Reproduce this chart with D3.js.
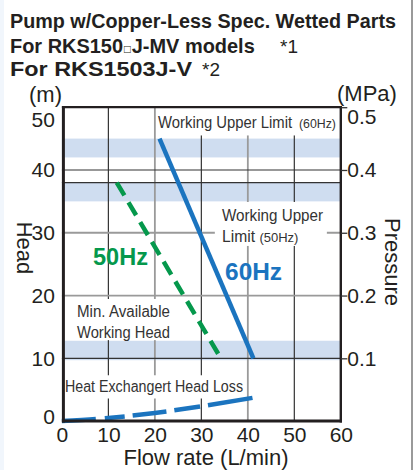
<!DOCTYPE html>
<html>
<head>
<meta charset="utf-8">
<script src="https://cdn.jsdelivr.net/npm/d3@7"></script>
<style>
  body { margin: 0; background: #fff; }
  svg text { font-family: "Liberation Sans", Arial, Helvetica, sans-serif; }
</style>
</head>
<body>
<div id="chart"></div>
<script>
// chart values
var flowTicks = [0, 10, 20, 30, 40, 50, 60];
var headTicks = [0, 10, 20, 30, 40, 50];
var pressureTicks = [0.1, 0.2, 0.3, 0.4, 0.5];

var flow60 = [21, 41.2];
var head60 = [45, 10];
var flow50 = [11.8, 34.2];
var head50 = [38, 10];
var flowLoss = [0, 10, 20, 30, 41];
var headLoss = [0, 0.5, 1.3, 2.35, 3.7];

// shaded head ranges: working upper limit 60Hz, 50Hz, min. available head
var bandLow = [42, 35, 9.7];
var bandHigh = [45, 38, 12.8];

var darkFlowGrid = [10, 30, 50];
var grayFlowGrid = [20, 40];
var darkHeadGrid = [10, 38, 40];
var grayHeadGrid = [20, 30];

var width = 413, height = 470;
var blue = "#1b74bf", green = "#05984c", bandColor = "#cfddf0";

var svg = d3.select("#chart").append("svg")
    .attr("width", width)
    .attr("height", height);

svg.append("rect").attr("width", width).attr("height", height).attr("fill", "#fff");
svg.append("rect").attr("x", 0).attr("width", 4).attr("height", height).attr("fill", "#f1f6fc");
svg.append("rect").attr("x", 411).attr("width", 2).attr("height", height).attr("fill", "#9a9a9a");

var x = d3.scaleLinear().domain([0, 60]).range([61.9, 340.8]);
var y = d3.scaleLinear().domain([0, 50]).range([421.1, 107.2]);
var yP = d3.scaleLinear().domain([0, 0.5]).range([421.1, 107.2]);

// titles
var title = svg.append("g").attr("fill", "#231f20");
title.append("text").attr("x", 10).attr("y", 28)
    .attr("font-size", 20).attr("font-weight", "bold")
    .attr("textLength", 386).attr("lengthAdjust", "spacingAndGlyphs")
    .text("Pump w/Copper-Less Spec. Wetted Parts");
// line 2 has a small box glyph in it, so squeeze it with a scale instead
var g2 = title.append("g").attr("transform", "translate(10,53)");
var t2 = g2.append("text").attr("font-size", 21).attr("font-weight", "bold");
t2.append("tspan").text("For RKS150");
t2.append("tspan").attr("font-size", 12).attr("font-weight", "normal").attr("dx", 1).text("\u25A1");
t2.append("tspan").attr("dx", 1).text("J-MV models");
var w2 = t2.node().getComputedTextLength();
g2.attr("transform", "translate(10,53) scale(" + (243 / w2) + ",1)");
title.append("text").attr("x", 280).attr("y", 53)
    .attr("font-size", 19).text("*1");
title.append("text").attr("x", 10).attr("y", 76)
    .attr("font-size", 21).attr("font-weight", "bold")
    .attr("textLength", 182).attr("lengthAdjust", "spacingAndGlyphs")
    .text("For RKS1503J-V");
title.append("text").attr("x", 202).attr("y", 76)
    .attr("font-size", 19).text("*2");

// bands
svg.append("g").selectAll("rect")
    .data(bandLow)
    .enter().append("rect")
    .attr("x", x(0))
    .attr("width", x(60) - x(0))
    .attr("y", function(d, i) { return y(bandHigh[i]); })
    .attr("height", function(d, i) { return y(d) - y(bandHigh[i]); })
    .attr("fill", bandColor);

// gridlines
var grid = svg.append("g");
grid.selectAll(".vd").data(darkFlowGrid).enter().append("line")
    .attr("x1", function(d) { return x(d); }).attr("x2", function(d) { return x(d); })
    .attr("y1", y(50)).attr("y2", y(0))
    .attr("stroke", "#333").attr("stroke-width", 1.2);
grid.selectAll(".vg").data(grayFlowGrid).enter().append("line")
    .attr("x1", function(d) { return x(d); }).attr("x2", function(d) { return x(d); })
    .attr("y1", y(50)).attr("y2", y(0))
    .attr("stroke", "#9a9a9a").attr("stroke-width", 1.8);
grid.selectAll(".hd").data(darkHeadGrid).enter().append("line")
    .attr("y1", function(d) { return y(d); }).attr("y2", function(d) { return y(d); })
    .attr("x1", x(0)).attr("x2", x(60))
    .attr("stroke", "#333").attr("stroke-width", 1.2);
grid.selectAll(".hg").data(grayHeadGrid).enter().append("line")
    .attr("y1", function(d) { return y(d); }).attr("y2", function(d) { return y(d); })
    .attr("x1", x(0)).attr("x2", x(60))
    .attr("stroke", "#9a9a9a").attr("stroke-width", 1.8);

// white boxes behind the annotations (data coords)
var boxes = [
    [20.46, 59.4, 50, 45.5],
    [32.9, 57.0, 34.9, 27.9],
    [2.2, 24.1, 19.45, 12.9],
    [0.3, 39.6, 7.3, 3.6]
];
svg.append("g").selectAll("rect").data(boxes).enter().append("rect")
    .attr("x", function(d) { return x(d[0]); })
    .attr("width", function(d) { return x(d[1]) - x(d[0]); })
    .attr("y", function(d) { return y(d[2]); })
    .attr("height", function(d) { return y(d[3]) - y(d[2]); })
    .attr("fill", "#fff");

// annotations
var notes = [
    { t: "Working Upper Limit", fx: 20.7, hy: 46.7, size: 16, len: 134 },
    { t: "(60Hz)", fx: 51.0, hy: 46.7, size: 13, len: 37 },
    { t: "Working Upper", fx: 34.45, hy: 31.9, size: 16, len: 101 },
    { t: "Limit", fx: 34.45, hy: 28.5, size: 16, len: 33 },
    { t: "(50Hz)", fx: 42.5, hy: 28.5, size: 13, len: 39 },
    { t: "Min. Available", fx: 3.25, hy: 16.6, size: 16, len: 93 },
    { t: "Working Head", fx: 3.25, hy: 13.25, size: 16, len: 93 },
    { t: "Heat Exchangert Head Loss", fx: 0.67, hy: 4.64, size: 16, len: 178 }
];
svg.append("g").attr("fill", "#333").selectAll("text").data(notes).enter().append("text")
    .attr("x", function(d) { return x(d.fx); })
    .attr("y", function(d) { return y(d.hy); })
    .attr("font-size", function(d) { return d.size; })
    .attr("textLength", function(d) { return d.len; })
    .attr("lengthAdjust", "spacingAndGlyphs")
    .text(function(d) { return d.t; });

// curves
var line = d3.line()
    .x(function(d) { return x(d[0]); })
    .y(function(d) { return y(d[1]); });
var lossLine = d3.line()
    .curve(d3.curveMonotoneX)
    .x(function(d) { return x(d[0]); })
    .y(function(d) { return y(d[1]); });

svg.append("path")
    .attr("d", lossLine(d3.zip(flowLoss, headLoss)))
    .attr("fill", "none").attr("stroke", blue).attr("stroke-width", 4.5)
    .attr("stroke-dasharray", "34,9,20,8,34,8,26,8,100");
svg.append("path")
    .attr("d", line(d3.zip(flow50, head50)))
    .attr("fill", "none").attr("stroke", green).attr("stroke-width", 4.5)
    .attr("stroke-dasharray", "15,8");
svg.append("path")
    .attr("d", line(d3.zip(flow60, head60)))
    .attr("fill", "none").attr("stroke", blue).attr("stroke-width", 4.5);

svg.append("text").attr("x", x(35.1)).attr("y", y(22.48))
    .attr("font-size", 24).attr("font-weight", "bold").attr("fill", blue)
    .attr("textLength", 57).attr("lengthAdjust", "spacingAndGlyphs")
    .text("60Hz");
svg.append("text").attr("x", x(6.69)).attr("y", y(24.87))
    .attr("font-size", 24).attr("font-weight", "bold").attr("fill", green)
    .attr("textLength", 55).attr("lengthAdjust", "spacingAndGlyphs")
    .text("50Hz");

// frame
var frame = svg.append("g").attr("stroke", "#231f20").attr("fill", "none");
frame.append("line").attr("x1", x(0) + 1.5).attr("x2", x(0) + 1.5)
    .attr("y1", y(50) - 1).attr("y2", y(0) + 1.5).attr("stroke-width", 3);
frame.append("line").attr("x1", x(60)).attr("x2", x(60))
    .attr("y1", y(50) - 1).attr("y2", y(0) + 1.5).attr("stroke-width", 2.4);
frame.append("line").attr("x1", x(0)).attr("x2", x(60) + 1.2)
    .attr("y1", y(50)).attr("y2", y(50)).attr("stroke-width", 2.3);
frame.append("line").attr("x1", x(0)).attr("x2", x(60) + 1.2)
    .attr("y1", y(0)).attr("y2", y(0)).attr("stroke-width", 3);

// axes
var leftAxis = svg.append("g")
    .attr("transform", "translate(" + x(0) + ",0)")
    .call(d3.axisLeft(y).tickValues(headTicks).tickSize(0).tickPadding(7));
var rightAxis = svg.append("g")
    .attr("transform", "translate(" + x(60) + ",0)")
    .call(d3.axisRight(yP).tickValues(pressureTicks).tickSize(6.5).tickPadding(0)
        .tickFormat(d3.format(".1f")));
var bottomAxis = svg.append("g")
    .attr("transform", "translate(0," + y(0) + ")")
    .call(d3.axisBottom(x).tickValues(flowTicks).tickSize(0).tickPadding(6));

[leftAxis, rightAxis, bottomAxis].forEach(function(a) {
    a.select(".domain").remove();
    a.attr("font-family", null).attr("font-size", null);
    a.selectAll("text").attr("font-size", 21).attr("fill", "#231f20");
    a.selectAll("line").attr("stroke", "#333").attr("stroke-width", 1.3);
});
// top and bottom labels sit inside the frame in the reference
leftAxis.selectAll(".tick text")
    .filter(function(d) { return d === 50; }).attr("y", 13);
leftAxis.selectAll(".tick text")
    .filter(function(d) { return d === 0; }).attr("y", -4.5);
rightAxis.selectAll(".tick text")
    .filter(function(d) { return d === 0.5; }).attr("y", 10);

// axis titles
var titles = svg.append("g").attr("fill", "#231f20").attr("font-size", 22);
titles.append("text").attr("x", 29).attr("y", 102).text("(m)");
titles.append("text").attr("x", 337).attr("y", 101).text("(MPa)");
titles.append("text").attr("x", 206).attr("y", 465).attr("text-anchor", "middle")
    .text("Flow rate (L/min)");
titles.append("text").attr("transform", "translate(17,248) rotate(90)")
    .attr("text-anchor", "middle").text("Head");
titles.append("text").attr("transform", "translate(385,262) rotate(90)")
    .attr("text-anchor", "middle").text("Pressure");
</script>
</body>
</html>
